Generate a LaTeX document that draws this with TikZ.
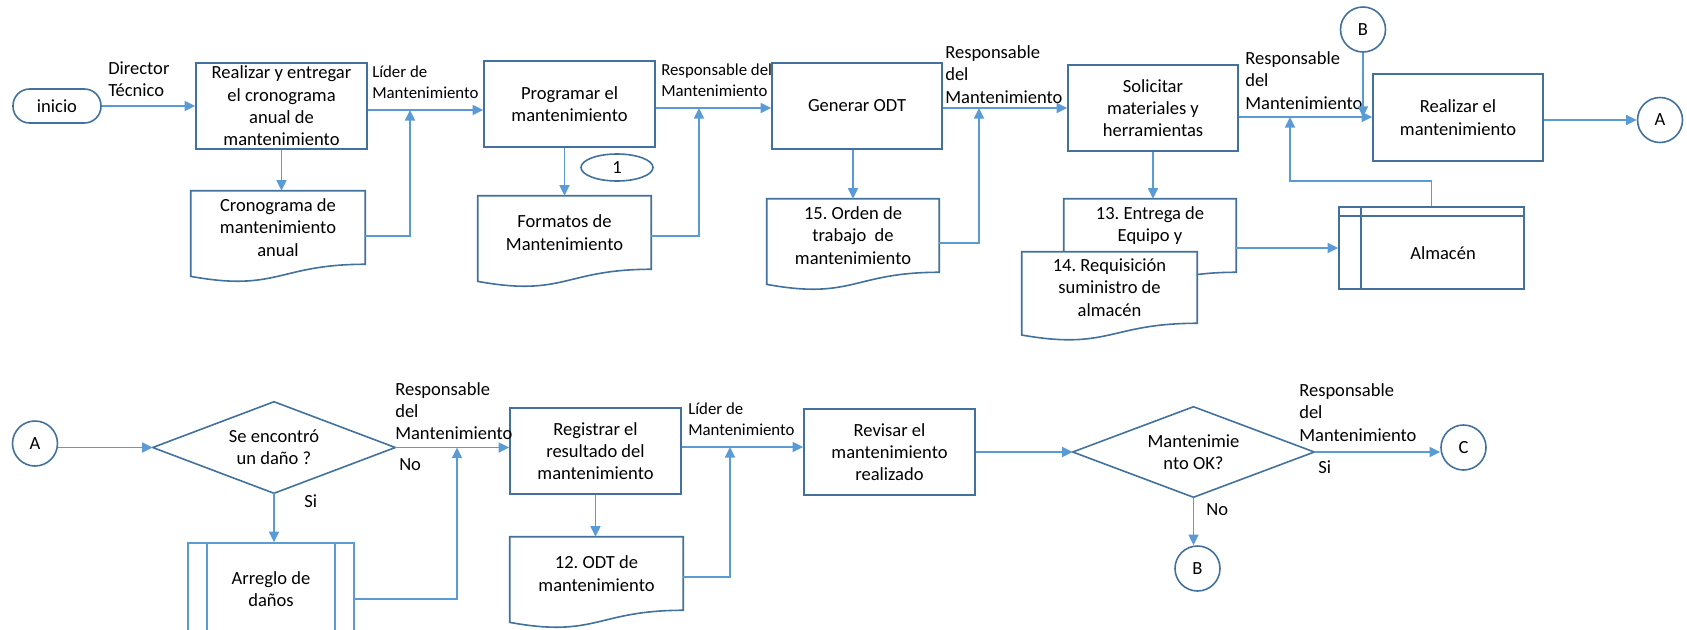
\documentclass[tikz,border=0pt]{standalone}
\usepackage{fontspec}
\setmainfont{Carlito}
\usetikzlibrary{arrows.meta,calc,shapes.geometric,backgrounds}
\definecolor{edge}{HTML}{41719C}
\definecolor{flow}{HTML}{5B9BD5}
\newcommand\bigtxt{\fontsize{13.9pt}{16.7pt}\selectfont}
\newcommand\smalltxt{\fontsize{12.6pt}{15.6pt}\selectfont}
% document symbol: the node covers the text area, the wavy foot hangs below it
\newcommand\docoutline[1]{%
  \filldraw[shapeline, fill=white] (#1.south east) -- (#1.north east) -- (#1.north west)
    -- ($(#1.north west)!1.1646!(#1.south west)$)
    .. controls ($(#1.north)!1.380!(#1.south)$) and (#1.south) .. (#1.south east) -- cycle;}
\frenchspacing
\begin{document}
\begin{tikzpicture}[x=0.75pt,y=-0.75pt,
  every node/.style={inner sep=0pt, font=\bigtxt},
  shapeline/.style={draw=edge, line width=1.2pt},
  stepbox/.style n args={2}{shapeline, rectangle, minimum width=#1*0.75pt, minimum height=#2*0.75pt, align=center},
  docbox/.style n args={2}{rectangle, minimum width=#1*0.75pt, minimum height=#2*0.75pt, align=center},
  decbox/.style n args={2}{rectangle, minimum width=#1*0.75pt, minimum height=#2*0.75pt, align=center},
  connector/.style={shapeline, circle, minimum size=45*0.75pt},
  conn/.style={draw=flow, line width=1.2pt, -{Triangle[length=8pt,width=7.5pt]}},
  lab/.style={anchor=west, align=left},
  slab/.style={anchor=west, align=left, font=\smalltxt}]
\useasboundingbox (0,0) rectangle (1687,629);
\clip (0,0) rectangle (1687,629);

% ---------- upper row ----------
\node[shapeline, rectangle, rounded corners=12.5pt, minimum width=88*0.75pt, minimum height=34*0.75pt] (inicio) at (57,106) {inicio};
\node[stepbox={171}{86}] (box1) at (281.5,106) {Realizar y entregar\\el cronograma\\anual de\\mantenimiento};
\node[stepbox={171}{86}] (box2) at (569.5,104) {Programar el\\mantenimiento};
\node[stepbox={170}{86}] (box3) at (857,106) {Generar ODT};
\node[stepbox={170}{86}] (box4) at (1153,108) {Solicitar\\materiales y\\herramientas};
\node[stepbox={170}{87}] (box5) at (1458,117.5) {Realizar el\\mantenimiento};
\node[connector] (A1) at (1660,120) {A};
\node[connector] (B1) at (1363,29.5) {B};

\node[docbox={174}{73}] (doc1) at (278,227.5) {Cronograma de\\mantenimiento\\anual};
\node[docbox={173}{73}] (doc2) at (564.5,232.5) {Formatos de\\Mantenimiento};
\node[docbox={172}{73}] (doc3) at (853,235.5) {15. Orden de\\trabajo\ \ de\\mantenimiento};
\node[docbox={172}{73}] (doc13) at (1150,235.5) {13. Entrega de\\Equipo y\\\mbox{}};
\node[docbox={175}{71}] (doc14) at (1109.5,287.5) {14. Requisición\\suministro de\\almacén};
\node[shapeline, ellipse, minimum width=72*0.75pt, minimum height=27*0.75pt] (one) at (617,167.5) {1};

\node[shapeline, rectangle, minimum width=185*0.75pt, minimum height=82*0.75pt] (alm) at (1431.5,248) {};
\draw[shapeline] ([yshift=-7.5pt]alm.north west) -- ([yshift=-7.5pt]alm.north east);
\draw[shapeline] ([xshift=17.25pt]alm.north west) -- ([xshift=17.25pt]alm.south west);
\node (almt) at (1443,253) {Almacén};

\begin{pgfonlayer}{background}
  \docoutline{doc1}
  \docoutline{doc2}
  \docoutline{doc3}
  \docoutline{doc13}
  \docoutline{doc14}
\end{pgfonlayer}

% labels of the upper row
\node[lab] (l1) at (108,79) {Director\\Técnico};
\node[slab] (l2) at (372,82.5) {Líder de\\Mantenimiento};
\node[slab] (l3) at (661,80.5) {Responsable del\\Mantenimiento};
\node[lab] (l4) at (945,74.5) {Responsable\\del\\Mantenimiento};
\node[lab] (l5) at (1245,80.5) {Responsable\\del\\Mantenimiento};

% connectors of the upper row
\coordinate (j1) at (410,110);
\coordinate (j2) at (699,108);
\coordinate (j3) at (979,108);
\coordinate (j4) at (1290,117);
\draw[conn] (inicio) -- (box1);
\draw[conn] (box1.east |- j1) -- (box2.west |- j1);
\draw[conn] (box1.south) -- (box1.south |- doc1.north);
\draw[conn] ([yshift=-6.4pt]doc1.east) -| (j1);
\draw[conn] (box2.east |- j2) -- (box3.west |- j2);
\draw[conn] (box2.south -| doc2.north) -- (doc2.north);
\draw[conn] ([yshift=-2.6pt]doc2.east) -| (j2);
\draw[conn] (box3.east |- j3) -- (box4.west |- j3);
\draw[conn] (box3.south -| doc3.north) -- (doc3.north);
\draw[conn] ([yshift=-5.6pt]doc3.east) -| (j3);
\draw[conn] (box4.east |- j4) -- (box5.west |- j4);
\draw[conn] (box4.south) -- (box4.south |- doc13.north);
\draw[conn] (doc13.east |- alm) -- (alm.west);
\draw[conn] (alm.north) -- ++(0,-25) -| (j4);
\draw[conn] (B1.south) -- (B1.south |- j4);
\draw[conn] (box5.east |- A1) -- (A1.west);

% ---------- lower row ----------
\node[connector] (A2) at (35,443.5) {A};
\node[decbox={242}{91}] (dia1) at (274,447.5) {Se encontró\\un daño ?};
\draw[shapeline] (dia1.west) -- (dia1.north) -- (dia1.east) -- (dia1.south) -- cycle;
\node[draw=flow, line width=1.2pt, rectangle, minimum width=166*0.75pt, minimum height=92*0.75pt, align=center] (arr) at (271,589) {Arreglo de\\daños};
\draw[draw=flow, line width=1.2pt] ([xshift=15pt]arr.north west) -- ([xshift=15pt]arr.south west);
\draw[draw=flow, line width=1.2pt] ([xshift=-15pt]arr.north east) -- ([xshift=-15pt]arr.south east);
\node[stepbox={171}{86}] (box6) at (595.5,451) {Registrar el\\resultado del\\mantenimiento};
\node[docbox={173}{73}] (doc12) at (596.5,573.5) {12. ODT de\\mantenimiento};
\node[stepbox={171}{86}] (box7) at (889.5,452) {Revisar el\\mantenimiento\\realizado};
\node[decbox={241}{90}] (dia2) at (1193.5,452) {Mantenimie\\nto OK?};
\draw[shapeline] (dia2.west) -- (dia2.north) -- (dia2.east) -- (dia2.south) -- cycle;
\node[connector] (C) at (1463.5,447.5) {C};
\node[connector] (B2) at (1197.5,568.5) {B};

\begin{pgfonlayer}{background}
  \docoutline{doc12}
\end{pgfonlayer}

% labels of the lower row
\node[lab] (l6) at (395,411) {Responsable\\del\\Mantenimiento};
\node[lab] (l7) at (399,465) {No};
\node[lab] (l8) at (304,501) {Si};
\node[slab] (l9) at (688,419.5) {Líder de\\Mantenimiento};
\node[lab] (l10) at (1299,412.5) {Responsable\\del\\Mantenimiento};
\node[lab] (l11) at (1318,467) {Si};
\node[lab] (l12) at (1206,510) {No};

% connectors of the lower row
\coordinate (j6) at (457,447.5);
\coordinate (j7) at (730,447);
\draw[conn] (A2.east |- dia1.west) -- (dia1.west);
\draw[conn] (dia1.east) -- (box6.west |- dia1.east);
\draw[conn] (dia1.south) -- (dia1.south |- arr.north);
\draw[conn] ([yshift=-7.5pt]arr.east) -| (j6);
\draw[conn] (box6.east |- j7) -- (box7.west |- j7);
\draw[conn] (box6.south) -- (box6.south |- doc12.north);
\draw[conn] ([yshift=-2.6pt]doc12.east) -| (j7);
\draw[conn] (box7.east |- dia2.west) -- (dia2.west);
\draw[conn] (dia2.east) -- (dia2.east -| C.west);
\draw[conn] (dia2.south) -- (dia2.south |- B2.north);
\end{tikzpicture}
\end{document}
